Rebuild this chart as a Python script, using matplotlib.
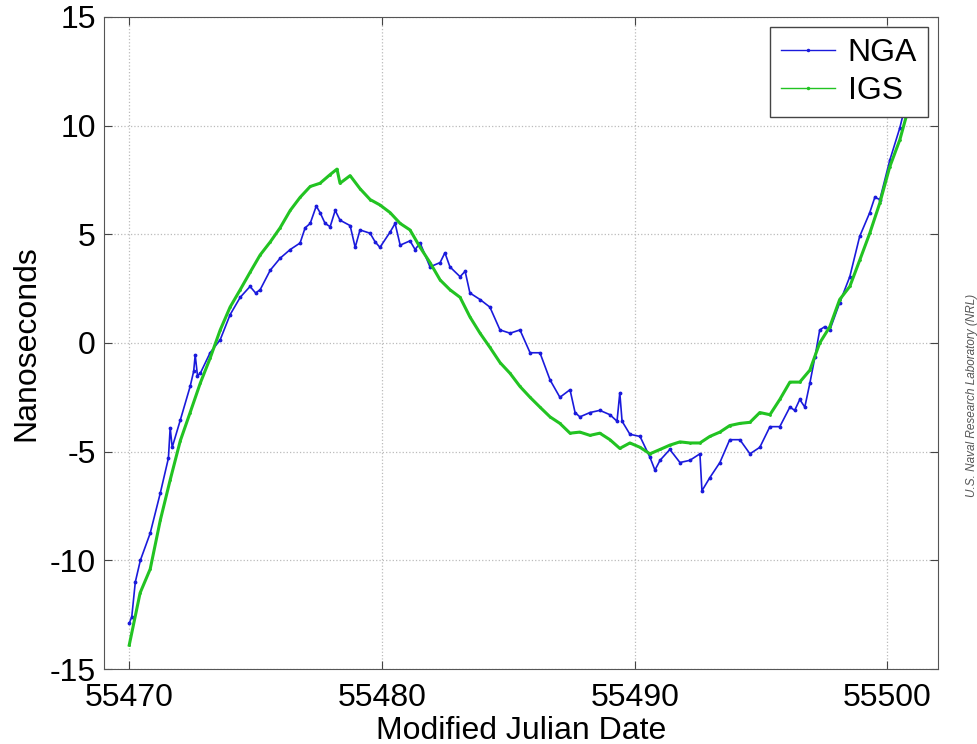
import matplotlib.pyplot as plt

plt.rcParams['font.family'] = ['Liberation Sans', 'DejaVu Sans']
plt.rcParams['axes.unicode_minus'] = False

# IGS clock estimate
igs_mjd = [55470.0, 55470.43, 55470.83, 55471.23, 55471.62, 55472.02, 55472.41,
           55472.81, 55473.20, 55473.60, 55473.99, 55474.39, 55474.78, 55475.18,
           55475.58, 55475.97, 55476.37, 55476.76, 55477.16, 55477.55, 55477.95,
           55478.22, 55478.34, 55478.74, 55479.13, 55479.53, 55479.92, 55480.32,
           55480.72, 55481.11, 55481.51, 55481.90, 55482.30, 55482.69, 55483.09,
           55483.48, 55483.88, 55484.27, 55484.67, 55485.07, 55485.46, 55485.86,
           55486.25, 55486.65, 55487.04, 55487.44, 55487.83, 55488.23, 55488.62,
           55489.02, 55489.41, 55489.81, 55490.21, 55490.60, 55491.00, 55491.39,
           55491.79, 55492.18, 55492.58, 55492.97, 55493.37, 55493.76, 55494.16,
           55494.56, 55494.95, 55495.35, 55495.74, 55496.14, 55496.53, 55496.93,
           55497.32, 55497.72, 55498.11, 55498.51, 55498.90, 55499.30, 55499.70,
           55500.09, 55500.49, 55500.88, 55501.1]
igs_ns = [-13.9, -11.5, -10.4, -8.15, -6.3, -4.5, -3.2,
          -1.85, -0.7, 0.6, 1.65, 2.45, 3.25, 4.05,
          4.65, 5.3, 6.1, 6.7, 7.2, 7.35, 7.75,
          8.0, 7.35, 7.7, 7.1, 6.6, 6.35, 6.0,
          5.5, 5.2, 4.4, 3.7, 2.9, 2.45, 2.1,
          1.2, 0.45, -0.2, -0.9, -1.4, -2.0, -2.5,
          -2.95, -3.4, -3.7, -4.15, -4.1, -4.25, -4.15,
          -4.45, -4.85, -4.6, -4.8, -5.1, -4.9, -4.7,
          -4.55, -4.6, -4.6, -4.3, -4.1, -3.8, -3.7,
          -3.65, -3.2, -3.3, -2.6, -1.8, -1.8, -1.25,
          0.0, 0.75, 2.0, 2.6, 3.8, 5.05, 6.45,
          8.1, 9.35, 11.0, 12.0]

# NGA clock estimate
nga_mjd = [55470.0, 55470.1, 55470.24, 55470.44, 55470.83, 55471.23, 55471.55,
           55471.62, 55471.70, 55472.02, 55472.41, 55472.55, 55472.61, 55472.70,
           55472.81, 55473.20, 55473.60, 55473.99, 55474.39, 55474.78, 55475.00,
           55475.18, 55475.58, 55475.97, 55476.37, 55476.76, 55476.96, 55477.16,
           55477.40, 55477.55, 55477.75, 55477.95, 55478.15, 55478.34, 55478.74,
           55478.94, 55479.13, 55479.53, 55479.73, 55479.92, 55480.32, 55480.52,
           55480.72, 55481.11, 55481.31, 55481.51, 55481.90, 55482.30, 55482.49,
           55482.69, 55483.09, 55483.29, 55483.48, 55483.88, 55484.27, 55484.67,
           55485.07, 55485.46, 55485.86, 55486.25, 55486.65, 55487.04, 55487.44,
           55487.64, 55487.83, 55488.23, 55488.62, 55489.02, 55489.30, 55489.41,
           55489.50, 55489.81, 55490.21, 55490.60, 55490.80, 55491.00, 55491.39,
           55491.79, 55492.18, 55492.58, 55492.66, 55492.97, 55493.37, 55493.76,
           55494.16, 55494.56, 55494.95, 55495.35, 55495.74, 55496.14, 55496.33,
           55496.53, 55496.73, 55496.93, 55497.13, 55497.32, 55497.52, 55497.72,
           55498.11, 55498.51, 55498.90, 55499.30, 55499.50, 55499.70, 55500.09,
           55500.49, 55500.68, 55501.0]
nga_ns = [-12.9, -12.6, -11.0, -10.0, -8.75, -6.9, -5.3,
          -3.9, -4.8, -3.55, -2.0, -1.3, -0.55, -1.5,
          -1.4, -0.45, 0.15, 1.3, 2.1, 2.6, 2.3,
          2.45, 3.35, 3.9, 4.3, 4.6, 5.3, 5.5,
          6.3, 6.0, 5.5, 5.35, 6.1, 5.65, 5.4,
          4.4, 5.2, 5.05, 4.65, 4.4, 5.1, 5.5,
          4.5, 4.7, 4.3, 4.6, 3.5, 3.7, 4.15,
          3.5, 3.05, 3.3, 2.3, 2.0, 1.65, 0.6,
          0.45, 0.6, -0.45, -0.45, -1.7, -2.5, -2.15,
          -3.2, -3.4, -3.2, -3.1, -3.3, -3.6, -2.3,
          -3.6, -4.2, -4.3, -5.25, -5.85, -5.4, -4.9,
          -5.5, -5.4, -5.1, -6.8, -6.2, -5.5, -4.45,
          -4.45, -5.1, -4.8, -3.85, -3.85, -2.95, -3.1,
          -2.6, -2.95, -1.85, -0.65, 0.6, 0.75, 0.6,
          1.85, 3.05, 4.9, 6.0, 6.7, 6.6, 8.4,
          9.9, 10.8, 12.0]

xticks = [55470, 55480, 55490, 55500]
yticks = [-15, -10, -5, 0, 5, 10, 15]

fig = plt.figure(figsize=(9.78, 7.44), dpi=100)
ax = fig.add_axes([0.1063, 0.1008, 0.8528, 0.8764])

ax.plot(nga_mjd, nga_ns, color='#1a1adc', linewidth=1.2, marker='.',
        markersize=3.5, label='NGA')
ax.plot(igs_mjd, igs_ns, color='#22c322', linewidth=2.2, marker='.',
        markersize=2, label='IGS')

ax.set_xlim(55469.0, 55502.0)
ax.set_ylim(-15, 15)
ax.set_xticks(xticks)
ax.set_yticks(yticks)
ax.tick_params(direction='in', top=True, right=True, labelsize=23,
               length=6, color='#444444')
ax.tick_params(axis='x', pad=10)
ax.tick_params(axis='y', pad=6)
for s in ax.spines.values():
    s.set_color('#555555')
ax.grid(True, linestyle=':', color='#bbbbbb', linewidth=0.9)
ax.set_axisbelow(True)

ax.set_xlabel('Modified Julian Date', fontsize=23, labelpad=2)
ax.set_ylabel('Nanoseconds', fontsize=23, labelpad=6)

leg = ax.legend(loc='upper right', fontsize=23, numpoints=1, fancybox=False,
                framealpha=1, edgecolor='#444444', handlelength=1.7,
                handletextpad=0.4, borderpad=0.35, labelspacing=0.25,
                borderaxespad=0.3)
leg.get_frame().set_linewidth(1.0)
leg.set_zorder(5)
for ln in leg.get_lines():
    ln.set_linewidth(1.0)
    ln.set_markersize(3)

fig.text(0.9939, 0.469, 'U.S. Naval Research Laboratory (NRL)', rotation=90,
         fontsize=8.5, style='italic', color='#555555', ha='center', va='center')

plt.savefig('out.png', dpi=100)
